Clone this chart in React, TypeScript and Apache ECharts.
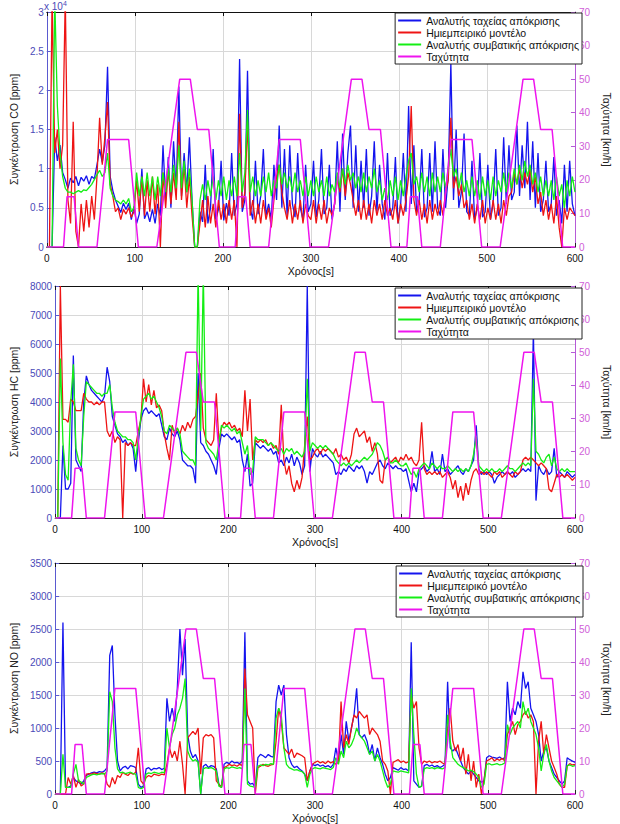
import React, { useEffect, useRef } from "react";
import * as echarts from "echarts";

// sampling: one value every 3 s, t = 0 … 600 s (201 values)
const TIME_STEP_S = 3;

// ---------- CO [ppm] ----------
const CO_FAST = [
  0, 0, 0, 14000, 11000, 13000, 9500, 8600, 7500, 8800,
  8200, 9000, 7800, 8900, 8400, 9100, 8000, 9000, 8700, 10500,
  12500, 10800, 13000, 23000, 9000, 7200, 6000, 5200, 4400, 5600,
  4800, 5600, 3500, 5200, 3000, 4200, 10000, 3600, 4500, 3200,
  4800, 3000, 5500, 4000, 13000, 6000, 11500, 5000, 13500, 7000,
  20500, 6500, 12000, 7000, 14000, 6000, 0, 0, 4500, 3200,
  10500, 3000, 5000, 12500, 3500, 4800, 11000, 3400, 5600, 4000,
  12000, 4000, 5500, 24000, 4500, 6000, 22500, 5000, 3500, 11000,
  4200, 6500, 12500, 4000, 5500, 3500, 10500, 6000, 15500, 5000,
  12500, 4000, 13000, 5500, 3800, 12000, 5000, 3500, 10500, 4500,
  5500, 11000, 3800, 6000, 12500, 4200, 5000, 10500, 3500, 5500,
  13500, 4500, 14500, 6000, 12000, 15500, 5000, 13000, 4500, 11000,
  5000, 12500, 4000, 6500, 13500, 4500, 10500, 5500, 3500, 12000,
  4000, 5000, 11500, 3000, 5500, 12000, 4500, 18000, 5500, 13000,
  4500, 6000, 12500, 3800, 5000, 12000, 4500, 13500, 5000, 4000,
  12500, 5000, 9000, 23500, 6000, 15000, 5000, 7000, 14500, 4500,
  4000, 11000, 3500, 5000, 12000, 3800, 4500, 10500, 3500, 5500,
  12500, 4000, 5000, 14000, 5500, 13000, 6000, 7000, 15500, 6500,
  13000, 7500, 16000, 6000, 13500, 5000, 12000, 4500, 6000, 11000,
  4500, 5500, 11500, 4000, 6000, 3000, 10500, 4500, 11000, 5500,
  4000,
];
const CO_MODEL = [
  0, 0, 32000, 12000, 15000, 10000, 13000, 32000, 6000, 3000,
  16000, 2000, 0, 5500, 2000, 6000, 2500, 6500, 3500, 9000,
  16500, 10500, 14000, 18500, 8000, 6500, 4500, 5000, 3500, 4800,
  4200, 5000, 3800, 4500, 8500, 4500, 9000, 4000, 8500, 4500,
  9000, 4200, 8000, 0, 9500, 5000, 10000, 5500, 9500, 6000,
  16000, 6000, 10500, 5000, 9000, 4000, 0, 0, 3000, 6000,
  2500, 6500, 3000, 5500, 2500, 6000, 3500, 5500, 3000, 6000,
  3500, 6000, 0, 17000, 5000, 7000, 16000, 4000, 6000, 3000,
  5500, 3000, 6000, 3500, 5000, 2500, 6000, 9000, 10500, 7000,
  5000, 3500, 6000, 3000, 5500, 3500, 6000, 3000, 5500, 4000,
  3500, 6000, 3000, 5500, 3500, 6000, 3000, 5000, 4000, 5500,
  9000, 7000, 10000, 6500, 9500, 8000, 6000, 4000, 6000, 3500,
  6000, 3500, 5500, 3000, 6000, 4000, 5500, 3500, 6000, 4000,
  5000, 3500, 6000, 3000, 5500, 4000, 6000, 9000, 18000, 6000,
  4000, 6000, 3500, 5500, 3000, 6000, 3500, 5500, 4000, 6000,
  4000, 7000, 8500, 16500, 7500, 9000, 6500, 8000, 5000, 6000,
  3500, 5500, 3000, 5500, 3500, 6000, 3000, 5000, 3500, 6000,
  3500, 5500, 3000, 6000, 4000, 6500, 7000, 9500, 8000, 10000,
  7500, 9500, 8000, 10000, 7000, 9000, 5500, 7000, 4000, 6000,
  3500, 5500, 3000, 6500, 2500, 0, 5000, 3500, 5000, 4500,
  4000,
];
const CO_CONV = [
  0, 0, 0, 32000, 18000, 12000, 9000, 7500, 7000, 7000,
  6800, 7000, 7200, 7000, 7300, 7200, 7600, 8000, 8600, 9200,
  9800, 9000, 9500, 12000, 7500, 6500, 6000, 5800, 5500, 6000,
  5500, 6200, 4500, 5000, 9500, 6500, 9000, 6500, 9500, 6500,
  9000, 6000, 9000, 6500, 9500, 7000, 10000, 7000, 10500, 7500,
  13000, 7500, 11000, 7000, 10000, 6000, 0, 0, 6000, 8000,
  6000, 8500, 6500, 9000, 6000, 8500, 6500, 9000, 6000, 8500,
  6500, 9000, 6500, 12000, 7000, 9500, 17500, 7000, 9000, 6500,
  8500, 6500, 9000, 7000, 9500, 6500, 8500, 7500, 10500, 8000,
  9500, 7500, 9000, 7000, 9500, 7000, 8500, 6500, 9000, 6500,
  8500, 6500, 9000, 7000, 8500, 6500, 9000, 6500, 8000, 7000,
  9500, 7500, 10000, 8000, 10500, 8500, 9500, 7500, 9000, 7000,
  9500, 7000, 9000, 7500, 10000, 7000, 8500, 6000, 7500, 6000,
  8500, 6500, 9000, 6000, 8500, 6500, 9000, 11000, 12000, 8000,
  9000, 7000, 9500, 7000, 9000, 6500, 9500, 7000, 9000, 7000,
  9500, 7500, 10000, 12500, 9000, 10000, 7500, 9500, 7000, 8500,
  6500, 9000, 6500, 8500, 6000, 9000, 6500, 8500, 6000, 9000,
  6500, 8500, 7000, 9500, 7000, 9500, 7500, 10000, 8000, 10500,
  8500, 11000, 9000, 10500, 8000, 9500, 7000, 9000, 6500, 8500,
  6500, 8500, 6000, 9000, 6500, 8000, 5000, 8500, 6500, 9000,
  7000,
];

// ---------- HC [ppm] ----------
const HC_FAST = [
  0, 0, 0, 2500, 1000, 1000, 1200, 5600, 2000, 1800,
  1600, 4000, 4900, 4600, 4400, 4300, 4200, 4100, 4000, 4200,
  5200, 4700, 3500, 3200, 2900, 2800, 2600, 2700, 2500, 2600,
  2400, 1600, 2600, 3400, 3700, 3800, 3600, 3700, 3600, 3500,
  3600, 3200, 2800, 2700, 3100, 2900, 2800, 3000, 2700, 2000,
  1900, 1800, 1800, 1700, 1200, 5000, 2600, 2500, 2300, 2200,
  2000, 1800, 1500, 2400, 2900, 2800, 2900, 2800, 2700, 2800,
  2600, 2700, 2000, 1600, 2200, 1100, 1200, 2600, 2500, 2400,
  2500, 2400, 2300, 2400, 2200, 2300, 1900, 2000, 1800, 2100,
  1900, 2200, 1800, 2100, 1900, 1500, 1800, 8000, 1600, 2400,
  2200, 2100, 2300, 2100, 2200, 2100, 2000, 1900, 1500, 1600,
  1500, 1700, 1600, 1800, 1700, 1600, 1800, 1700, 1800, 1600,
  1200, 1600, 1500, 1700, 1900, 2000, 1800, 1700, 1900, 1800,
  1700, 1800, 1700, 1700, 1600, 1700, 1300, 900, 1200, 900,
  1600, 1700, 1800, 1600, 1700, 2300, 1600, 1700, 1500, 2200,
  1600, 1700, 1500, 1600, 1700, 1800, 1600, 1500, 1700, 1600,
  1800, 2000, 3200, 1700, 1500, 1600, 1500, 1600, 1500, 1200,
  1400, 1500, 1600, 1500, 1600, 1500, 1600, 1400, 1500, 1600,
  1700, 1600, 1700, 1600, 6500, 600, 1800, 1600, 1500, 1700,
  1500, 1600, 2400, 1400, 1600, 1500, 1400, 1600, 1500, 1400,
  1500,
];
const HC_MODEL = [
  0, 0, 8000, 3400, 3400, 3300, 4100, 4000, 3700, 3700,
  3700, 4300, 4100, 4000, 4000, 3900, 4000, 3900, 4000, 4000,
  3000, 2800, 3000, 2600, 2800, 2700, 0, 2600, 2500, 2600,
  2500, 2500, 3000, 3400, 4800, 4000, 4600, 3900, 4400, 3800,
  3900, 3700, 2900, 2400, 2000, 3200, 2900, 3100, 2900, 3200,
  3000, 3300, 3100, 3400, 3500, 4200, 5000, 3100, 2700, 2600,
  2500, 2700, 4300, 2600, 3100, 3300, 3200, 3300, 3100, 3200,
  3000, 3100, 2800, 4400, 3000, 4100, 2000, 2700, 2600, 2700,
  2600, 2700, 2500, 2600, 2400, 2500, 2200, 3900, 2000, 1500,
  1800, 1200, 900, 1300, 1000, 1400, 2500, 3500, 2000, 2100,
  2300, 2400, 2200, 2400, 2300, 2400, 2300, 2200, 2400, 2100,
  2200, 2000, 2100, 1900, 2200, 2900, 3100, 2800, 2900, 3000,
  2600, 2800, 2300, 2600, 2200, 1300, 1200, 2000, 2100, 1900,
  2000, 2100, 1900, 2100, 2000, 2200, 2000, 2100, 1900, 1800,
  2000, 3300, 1700, 1500, 1600, 1500, 1600, 1500, 1600, 1400,
  1500, 1600, 1400, 1000, 1300, 700, 1100, 600, 1200, 800,
  1300, 1600, 1700, 1500, 1600, 1500, 1600, 1500, 1400, 1600,
  1500, 1600, 1400, 1500, 1600, 1500, 1400, 1600, 1500, 1600,
  2000, 2100, 2000, 2100, 2000, 1900, 1800, 1900, 1800, 1700,
  1000, 900, 1200, 1500, 1400, 1500, 1400, 1500, 1400, 1300,
  1400,
];
const HC_CONV = [
  0, 0, 5500, 2600, 1500, 1300, 4000, 5300, 2400, 2000,
  1800, 3500, 4700, 4600, 4500, 4400, 4300, 4300, 4200, 4300,
  4300, 4600, 3800, 3300, 3000, 2900, 2800, 2800, 2700, 2700,
  2600, 2000, 2800, 3500, 4100, 4200, 4300, 4100, 4200, 4000,
  3800, 3500, 3000, 2900, 3200, 3100, 3000, 3100, 2900, 2300,
  2200, 2100, 2000, 2000, 1800, 8500, 3000, 8500, 2600, 2400,
  2300, 2200, 2000, 2600, 3200, 3100, 3200, 3100, 3000, 3100,
  2900, 3000, 2600, 2200, 2500, 1500, 1600, 2800, 2700, 2700,
  2700, 2600, 2500, 2600, 2500, 2400, 2300, 2400, 2200, 2400,
  2300, 2400, 2200, 2300, 2200, 2100, 2300, 4800, 2300, 2600,
  2500, 2400, 2500, 2400, 2500, 2400, 2300, 2200, 2000, 1900,
  1800, 1900, 1800, 1900, 1800, 1900, 2000, 1900, 2000, 2100,
  2000, 2100, 2200, 2400, 2600, 2500, 2300, 2000, 2100, 1900,
  1900, 2000, 1900, 1800, 1800, 1900, 1700, 1500, 1600, 1400,
  1700, 1800, 1900, 1800, 1700, 1900, 1800, 1700, 1800, 1700,
  1700, 1800, 1700, 1600, 1700, 1600, 1700, 1600, 1700, 1600,
  1800, 2200, 2800, 1800, 1700, 1600, 1700, 1600, 1700, 1600,
  1600, 1700, 1600, 1700, 1800, 1700, 1700, 1600, 1700, 1800,
  1900, 1800, 1900, 1800, 4800, 2300, 2200, 2000, 1900, 2100,
  2200, 1800, 2100, 1700, 1600, 1700, 1600, 1700, 1600, 1600,
  1600,
];

// ---------- NO [ppm] ----------
const NO_FAST = [
  0, 0, 0, 2600, 100, 100, 120, 250, 200, 180,
  150, 200, 280, 300, 320, 330, 320, 340, 330, 350,
  400, 2100, 2250, 1200, 500, 350, 400, 420, 380, 430,
  420, 400, 150, 100, 120, 380, 400, 360, 390, 380,
  400, 370, 390, 1450, 1100, 1300, 1100, 1600, 2500, 1800,
  2350, 900, 650, 550, 600, 500, 0, 420, 450, 400,
  430, 420, 380, 150, 100, 450, 480, 460, 500, 470,
  480, 460, 500, 2450, 200, 150, 160, 100, 550, 600,
  580, 550, 600, 570, 560, 1400, 1650, 1500, 1650, 900,
  550, 450, 400, 420, 380, 350, 300, 200, 350, 450,
  430, 450, 420, 440, 410, 430, 400, 450, 700, 500,
  900, 600, 1100, 800, 1000, 1200, 1600, 900, 850, 900,
  800, 600, 750, 500, 700, 550, 450, 300, 200, 250,
  400, 380, 360, 400, 370, 380, 350, 2300, 200, 150,
  100, 120, 430, 450, 420, 440, 410, 430, 400, 420,
  450, 1700, 700, 650, 700, 600, 500, 400, 350, 300,
  350, 300, 250, 200, 180, 200, 550, 580, 560, 550,
  540, 560, 530, 550, 1700, 1100, 1300, 1200, 1400, 1300,
  1850, 1600, 1700, 1300, 1200, 1100, 900, 500, 650, 700,
  500, 400, 300, 250, 200, 150, 200, 550, 520, 500,
  480,
];
const NO_MODEL = [
  0, 0, 0, 0, 0, 250, 150, 280, 100, 220,
  120, 150, 300, 310, 300, 320, 310, 300, 320, 310,
  150, 100, 250, 150, 280, 250, 330, 300, 280, 320,
  300, 330, 700, 200, 150, 250, 280, 260, 300, 290,
  280, 300, 290, 450, 700, 550, 650, 500, 800, 450,
  0, 850, 900, 950, 900, 1000, 300, 850, 900, 880,
  900, 850, 200, 150, 100, 400, 420, 450, 430, 440,
  420, 450, 430, 1900, 1200, 1100, 1000, 0, 400, 420,
  450, 430, 420, 440, 450, 800, 1300, 1100, 700, 650,
  600, 680, 550, 620, 600, 580, 550, 200, 350, 450,
  480, 500, 470, 490, 460, 500, 470, 490, 450, 480,
  1400, 700, 900, 750, 1000, 1200, 1150, 1250, 1200, 1150,
  1200, 900, 1000, 950, 900, 800, 500, 450, 350, 0,
  480, 500, 520, 480, 500, 470, 490, 1500, 1300, 1400,
  700, 450, 500, 480, 500, 470, 490, 480, 500, 470,
  450, 1000, 1300, 800, 650, 750, 500, 700, 300, 600,
  200, 500, 100, 300, 0, 200, 500, 520, 550, 500,
  530, 510, 540, 500, 900, 1000, 1100, 900, 1050, 1100,
  1200, 1250, 1150, 1200, 1100, 0, 800, 1100, 600, 900,
  700, 500, 400, 300, 150, 100, 100, 420, 460, 440,
  450,
];
const NO_CONV = [
  0, 0, 0, 600, 100, 100, 100, 300, 450, 200,
  180, 150, 250, 270, 290, 300, 290, 300, 310, 300,
  350, 1550, 1400, 700, 380, 320, 330, 310, 320, 330,
  310, 300, 100, 80, 100, 300, 320, 310, 330, 320,
  310, 330, 320, 1000, 700, 900, 1000, 1200, 1300, 1450,
  1750, 650, 550, 500, 520, 480, 0, 380, 400, 390,
  400, 380, 350, 120, 100, 380, 400, 390, 410, 400,
  390, 400, 380, 1600, 150, 120, 110, 100, 420, 440,
  430, 450, 440, 460, 450, 1150, 1300, 1200, 700, 450,
  400, 380, 360, 370, 350, 340, 300, 100, 300, 380,
  400, 390, 380, 400, 390, 380, 370, 400, 550, 450,
  650, 550, 800, 700, 750, 850, 1000, 900, 850, 800,
  700, 600, 650, 500, 600, 500, 350, 200, 100, 150,
  350, 340, 330, 350, 340, 330, 320, 1600, 900, 300,
  100, 120, 380, 400, 390, 400, 380, 400, 390, 380,
  400, 1200, 800, 550, 500, 450, 420, 400, 380, 350,
  360, 340, 300, 250, 100, 150, 450, 460, 440, 450,
  460, 440, 450, 470, 1050, 900, 1000, 1050, 1100, 1000,
  1400, 1200, 1300, 1100, 1000, 900, 700, 350, 600, 750,
  500, 350, 250, 200, 150, 100, 150, 430, 440, 420,
  430,
];

// ---------- driving speed profile [km/h] (break points) ----------
const SPEED_T = [
  0, 19, 23, 31, 36, 57, 69, 93, 104, 125, 151, 163, 171, 184, 196,
  214, 218, 226, 231, 252, 264, 288, 299, 320, 346, 358, 366, 379, 391,
  409, 413, 421, 426, 447, 459, 483, 494, 515, 541, 553, 561, 574, 586,
  600,
];
const SPEED_V = [
  0, 0, 15, 15, 0, 0, 32, 32, 0, 0, 50, 50, 35, 35, 0,
  0, 15, 15, 0, 0, 32, 32, 0, 0, 50, 50, 35, 35, 0,
  0, 15, 15, 0, 0, 32, 32, 0, 0, 50, 50, 35, 35, 0,
  0,
];

const SERIES_NAMES = [
  "Αναλυτής ταχείας απόκρισης",
  "Ημιεμπειρικό μοντέλο",
  "Αναλυτής συμβατικής απόκρισης",
  "Ταχύτητα",
];
const Y_NAMES = ["Συγκέντρωση CO [ppm]", "Συγκέντρωση HC [ppm]", "Συγκέντρωση NO [ppm]"];
const X_NAME = "Χρόνος[s]";
const SPEED_NAME = "Ταχύτητα [km/h]";
const Y_MAX = [30000, 8000, 3500];
const Y_INTERVAL = [5000, 1000, 500];

const PANEL_DATA = [
  [CO_FAST, CO_MODEL, CO_CONV],
  [HC_FAST, HC_MODEL, HC_CONV],
  [NO_FAST, NO_MODEL, NO_CONV],
];

const FONT = "'Liberation Sans', Arial, Helvetica, sans-serif";
const COLORS = ["#1414ee", "#ee1414", "#14ee14", "#ee14ee"];
const LEFT_AXIS = "#5a5ad0";
const LEFT_LABEL = "#4a4ab8";
const RIGHT_AXIS = "#b65ad8";
const RIGHT_LABEL = "#d060d8";
const GRID_LINE = "#d8d8d8";

const GRIDS = [
  { left: 41, top: 12, width: 543, height: 235 },
  { left: 42, top: 286, width: 541, height: 232 },
  { left: 48, top: 563, width: 542, height: 237 },
];
const LEGEND_POS = [
  { right: 38, top: 13 },
  { right: 38, top: 288 },
  { right: 37, top: 566 },
];
const Y_NAME_GAP = [23, 30, 30];

function toPairs(vals: number[]) {
  return vals.map((v, i) => [i * TIME_STEP_S, v]);
}

function buildOption() {
  const xAxis: any[] = [];
  const yAxis: any[] = [];
  const series: any[] = [];
  const legend: any[] = [];
  const speedPairs = SPEED_T.map((t, i) => [t, SPEED_V[i]]);

  GRIDS.forEach((_, p) => {
    xAxis.push({
      gridIndex: p,
      type: "value",
      min: 0,
      max: 600,
      interval: 100,
      position: "bottom",
      axisLine: { show: true, onZero: false, lineStyle: { color: "#222", width: 1 } },
      axisTick: { show: true, inside: true, length: 4, lineStyle: { color: "#222" } },
      axisLabel: { color: "#111", fontSize: 10, fontFamily: FONT, margin: 6 },
      splitLine: { show: true, lineStyle: { color: GRID_LINE, width: 1 } },
      name: X_NAME,
      nameLocation: "middle",
      nameGap: 18,
      nameTextStyle: { color: "#111", fontSize: 10.5, fontFamily: FONT },
    });
    xAxis.push({
      gridIndex: p,
      type: "value",
      min: 0,
      max: 600,
      interval: 100,
      position: "top",
      axisLine: { show: true, onZero: false, lineStyle: { color: "#111", width: 1 } },
      axisTick: { show: true, inside: true, length: 4, lineStyle: { color: "#111" } },
      axisLabel: { show: false },
      splitLine: { show: false },
    });
    yAxis.push({
      gridIndex: p,
      type: "value",
      position: "left",
      min: 0,
      max: Y_MAX[p],
      interval: Y_INTERVAL[p],
      axisLine: { show: true, onZero: false, lineStyle: { color: LEFT_AXIS, width: 1 } },
      axisTick: { show: true, inside: true, length: 4, lineStyle: { color: LEFT_AXIS } },
      axisLabel: {
        color: LEFT_LABEL,
        fontSize: 10,
        fontFamily: FONT,
        margin: 3,
        formatter: p === 0 ? (v: number) => String(v / 10000) : (v: number) => String(v),
      },
      splitLine: { show: true, lineStyle: { color: GRID_LINE, width: 1 } },
      name: Y_NAMES[p],
      nameLocation: "middle",
      nameGap: Y_NAME_GAP[p],
      nameTextStyle: { color: "#222", fontSize: 10.5, fontFamily: FONT },
    });
    yAxis.push({
      gridIndex: p,
      type: "value",
      position: "right",
      min: 0,
      max: 70,
      interval: 10,
      axisLine: { show: true, onZero: false, lineStyle: { color: RIGHT_AXIS, width: 1 } },
      axisTick: { show: true, inside: true, length: 4, lineStyle: { color: RIGHT_AXIS } },
      axisLabel: {
        color: RIGHT_LABEL,
        fontSize: 10,
        fontFamily: FONT,
        margin: 4,
        lineHeight: 10,
        padding: [0, 0, 3, 0],
      },
      splitLine: { show: false },
      name: SPEED_NAME,
      nameLocation: "middle",
      nameGap: 22,
      nameRotate: -90,
      nameTextStyle: { color: "#222", fontSize: 10.5, fontFamily: FONT },
    });

    PANEL_DATA[p].forEach((vals, k) => {
      series.push({
        type: "line",
        name: SERIES_NAMES[k],
        xAxisIndex: 2 * p,
        yAxisIndex: 2 * p,
        data: toPairs(vals),
        showSymbol: false,
        symbol: "none",
        clip: true,
        color: COLORS[k],
        lineStyle: { color: COLORS[k], width: 1.3 },
      });
    });
    series.push({
      type: "line",
      name: SERIES_NAMES[3],
      xAxisIndex: 2 * p,
      yAxisIndex: 2 * p + 1,
      data: speedPairs,
      showSymbol: false,
      symbol: "none",
      clip: true,
      color: COLORS[3],
      lineStyle: { color: COLORS[3], width: 1.5 },
    });

    legend.push({
      ...LEGEND_POS[p],
      orient: "vertical",
      data: SERIES_NAMES,
      icon: "rect",
      itemWidth: 23,
      itemHeight: 2,
      itemGap: 1,
      padding: [2, 3, 2, 3],
      borderColor: "#222",
      borderWidth: 1,
      backgroundColor: "#ffffff",
      selectedMode: false,
      textStyle: { color: "#111", fontSize: 10.5, fontFamily: FONT },
    });
  });

  return {
    animation: false,
    backgroundColor: "#ffffff",
    grid: GRIDS.map((g) => ({ ...g, containLabel: false })),
    xAxis,
    yAxis,
    legend,
    series,
    graphic: [
      {
        type: "text",
        left: 44,
        top: 0,
        style: {
          text: "{a|x 10}{b|4}",
          rich: {
            a: { fontSize: 10, fontFamily: FONT, fill: LEFT_LABEL },
            b: { fontSize: 7, fontFamily: FONT, fill: LEFT_LABEL, verticalAlign: "top", padding: [0, 0, 6, 0] },
          },
        },
      },
    ],
  };
}

export default function App() {
  const ref = useRef<HTMLDivElement>(null);
  useEffect(() => {
    if (!ref.current) return;
    const chart = echarts.init(ref.current, undefined, { renderer: "svg" });
    chart.setOption(buildOption());
    return () => chart.dispose();
  }, []);
  return (
    <div
      ref={ref}
      style={{ position: "absolute", left: 0, top: 0, width: 620, height: 824, background: "#fff" }}
    />
  );
}
